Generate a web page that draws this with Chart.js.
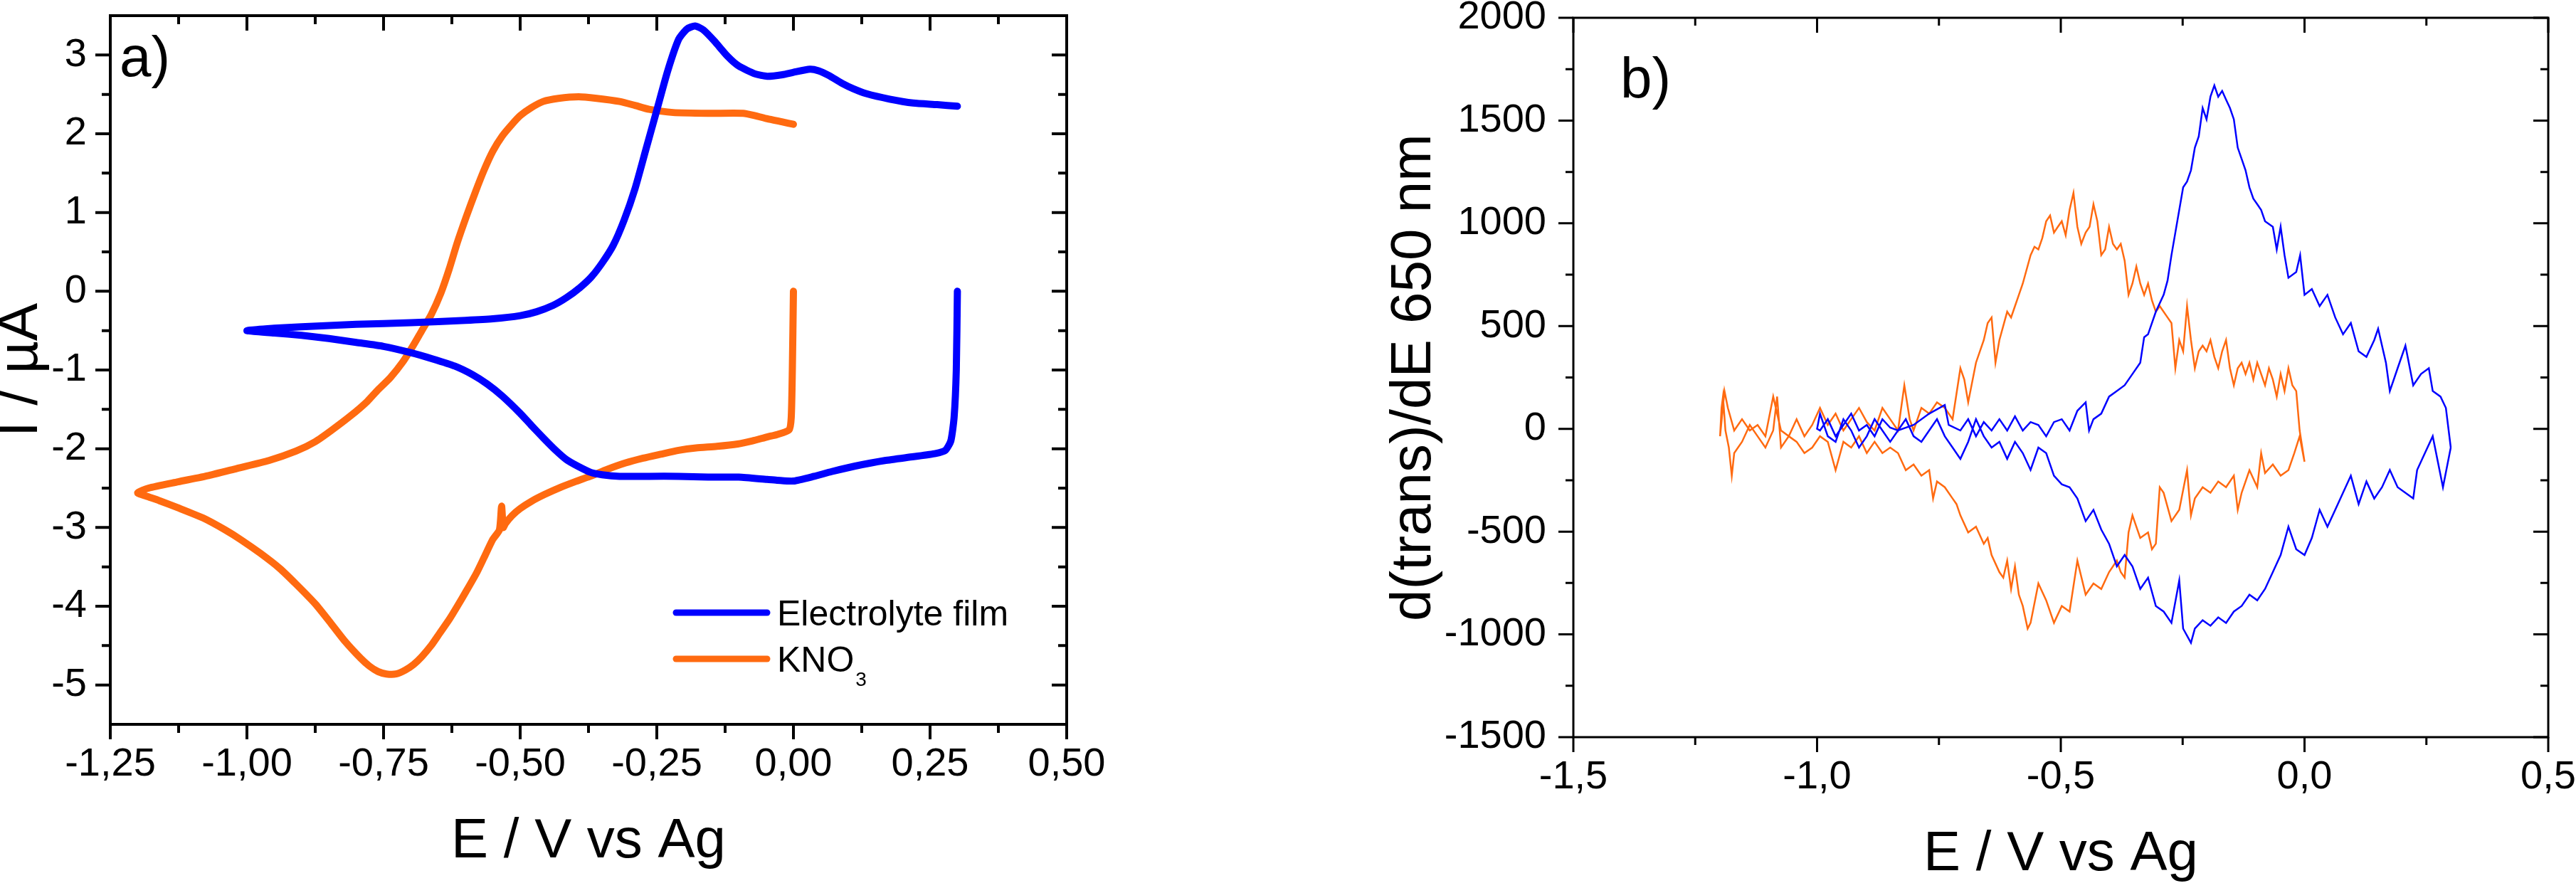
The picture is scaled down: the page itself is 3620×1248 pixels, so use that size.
<!DOCTYPE html>
<html>
<head>
<meta charset="utf-8">
<script src="https://cdn.jsdelivr.net/npm/chart.js@4.4.1/dist/chart.umd.min.js"></script>
<style>
  html, body { margin: 0; padding: 0; background: #fff; overflow: hidden; }
  #chartA { position: absolute; left: 0; top: 0; }
  #chartB { position: absolute; left: 1900px; top: 0; }
</style>
</head>
<body>
<canvas id="chartA" width="1600" height="1248" style="width:1600px;height:1248px"></canvas>
<canvas id="chartB" width="1760" height="1248" style="width:1760px;height:1248px"></canvas>
<script>
const FONT = "'Liberation Sans', Arial, Helvetica, sans-serif";
const BLUE = '#0000ff';
const ORANGE = '#ff6a10';

// ---- panel a) cyclic voltammograms ----
const aXTicks = [-1.25, -1.0, -0.75, -0.5, -0.25, 0, 0.25, 0.5];
const aXMinor = [-1.125, -0.875, -0.625, -0.375, -0.125, 0.125, 0.375];
const aYTicks = [-5, -4, -3, -2, -1, 0, 1, 2, 3];
const aYMinor = [-4.5, -3.5, -2.5, -1.5, -0.5, 0.5, 1.5, 2.5];

const aBlueE = [0.300, 0.298, 0.294, 0.288, 0.278, 0.26, 0.22, 0.167, 0.113, 0.07, 0.038, 0.0, -0.03, -0.048,
  -0.10, -0.156, -0.21, -0.264, -0.318, -0.35, -0.371, -0.395, -0.415, -0.435, -0.458, -0.48, -0.50,
  -0.533, -0.56, -0.587, -0.62, -0.66, -0.70, -0.75, -0.80, -0.85, -0.90, -0.95, -1.00,
  -0.95, -0.90, -0.80, -0.70, -0.60, -0.55, -0.50, -0.47, -0.44, -0.415, -0.39, -0.37, -0.35, -0.33,
  -0.31, -0.29, -0.27, -0.25, -0.23, -0.21, -0.195, -0.18, -0.165, -0.145, -0.12, -0.10, -0.07, -0.048,
  -0.02, 0.0, 0.03, 0.046, 0.065, 0.089, 0.11, 0.133, 0.176, 0.219, 0.263, 0.30];
const aBlueI = [0.00, -1.00, -1.60, -1.90, -2.02, -2.06, -2.10, -2.15, -2.22, -2.29, -2.35, -2.41, -2.40, -2.39,
  -2.36, -2.36, -2.35, -2.35, -2.35, -2.33, -2.30, -2.22, -2.14, -2.02, -1.86, -1.70, -1.55,
  -1.33, -1.18, -1.06, -0.95, -0.86, -0.78, -0.70, -0.65, -0.60, -0.56, -0.53, -0.50,
  -0.47, -0.45, -0.42, -0.40, -0.37, -0.35, -0.31, -0.26, -0.18, -0.08, 0.05, 0.18, 0.36, 0.58,
  0.90, 1.30, 1.80, 2.30, 2.80, 3.20, 3.33, 3.37, 3.32, 3.18, 2.98, 2.86, 2.76, 2.73,
  2.75, 2.78, 2.82, 2.80, 2.74, 2.64, 2.57, 2.51, 2.44, 2.39, 2.37, 2.35];

const aOrangeE = [0.0, -0.002, -0.004, -0.008, -0.03, -0.048, -0.075, -0.102, -0.14, -0.178, -0.21, -0.243,
  -0.275, -0.307, -0.34, -0.372, -0.40, -0.426, -0.455, -0.48, -0.50, -0.515, -0.527, -0.531, -0.534,
  -0.538, -0.55, -0.566, -0.58, -0.598, -0.615, -0.63, -0.648, -0.663, -0.68, -0.695, -0.71, -0.727,
  -0.745, -0.76, -0.776, -0.792, -0.82, -0.846, -0.875, -0.91, -0.94, -0.975, -1.01, -1.04, -1.08,
  -1.126, -1.16, -1.185, -1.20,
  -1.18, -1.126, -1.07, -1.018, -0.96, -0.91, -0.875, -0.846, -0.81, -0.78, -0.76, -0.738, -0.715,
  -0.695, -0.68, -0.663, -0.645, -0.63, -0.615, -0.598, -0.582, -0.566, -0.55, -0.533, -0.515, -0.50,
  -0.48, -0.458, -0.43, -0.393, -0.36, -0.318, -0.29, -0.264, -0.22, -0.156, -0.092, -0.07, -0.048,
  -0.02, 0.0];
const aOrangeI = [0.0, -1.0, -1.6, -1.76, -1.82, -1.85, -1.90, -1.94, -1.97, -1.99, -2.02, -2.07,
  -2.12, -2.18, -2.26, -2.35, -2.42, -2.49, -2.58, -2.67, -2.76, -2.85, -2.95, -3.0, -2.73,
  -3.03, -3.15, -3.38, -3.58, -3.80, -4.00, -4.17, -4.35, -4.50, -4.64, -4.74, -4.81, -4.86,
  -4.86, -4.83, -4.76, -4.66, -4.45, -4.22, -3.97, -3.72, -3.52, -3.33, -3.16, -3.03, -2.88,
  -2.75, -2.66, -2.60, -2.56,
  -2.50, -2.42, -2.34, -2.25, -2.15, -2.03, -1.91, -1.77, -1.58, -1.40, -1.25, -1.10, -0.90,
  -0.68, -0.50, -0.30, -0.02, 0.28, 0.62, 0.96, 1.26, 1.54, 1.78, 1.97, 2.12, 2.23,
  2.33, 2.41, 2.45, 2.47, 2.45, 2.41, 2.36, 2.31, 2.27, 2.26, 2.26, 2.23, 2.19,
  2.15, 2.12];

// ---- panel b) derivative of transmittance ----
const bXTicks = [-1.5, -1.0, -0.5, 0, 0.5];
const bXMinor = [-1.25, -0.75, -0.25, 0.25];
const bYTicks = [-1500, -1000, -500, 0, 500, 1000, 1500, 2000];
const bYMinor = [-1250, -750, -250, 250, 750, 1250, 1750];

const bBlueE = [0.300, 0.284, 0.263, 0.247, 0.231, 0.223, 0.191, 0.175, 0.159, 0.143, 0.127, 0.111, 0.095,
  0.079, 0.063, 0.047, 0.031, 0.015, 0.000, -0.017, -0.033, -0.049, -0.065, -0.081, -0.097, -0.113,
  -0.129, -0.145, -0.161, -0.177, -0.193, -0.209, -0.225, -0.233, -0.249, -0.257, -0.273, -0.289,
  -0.305, -0.321, -0.337, -0.353, -0.369, -0.385, -0.401, -0.417, -0.433, -0.449, -0.466, -0.482,
  -0.498, -0.514, -0.530, -0.546, -0.562, -0.578, -0.594, -0.610, -0.626, -0.642, -0.658, -0.674,
  -0.690, -0.706, -0.722, -0.738, -0.754, -0.770, -0.786, -0.802, -0.818, -0.834, -0.850, -0.866,
  -0.882, -0.898, -0.914, -0.930, -0.946, -0.962, -0.978, -0.994, -1.000,
  -0.994, -0.978, -0.962, -0.946, -0.930, -0.914, -0.898, -0.882, -0.866, -0.850, -0.834, -0.802,
  -0.770, -0.738, -0.730, -0.706, -0.690, -0.674, -0.658, -0.642, -0.626, -0.610, -0.594, -0.578,
  -0.562, -0.546, -0.530, -0.514, -0.498, -0.482, -0.466, -0.449, -0.442, -0.433, -0.417, -0.401,
  -0.385, -0.369, -0.353, -0.337, -0.329, -0.321, -0.305, -0.289, -0.281, -0.273, -0.265, -0.249,
  -0.241, -0.233, -0.225, -0.217, -0.209, -0.201, -0.193, -0.185, -0.177, -0.169, -0.161, -0.153,
  -0.145, -0.137, -0.129, -0.121, -0.113, -0.105, -0.097, -0.089, -0.081, -0.065, -0.057, -0.049,
  -0.041, -0.033, -0.017, -0.009, 0.000, 0.015, 0.031, 0.047, 0.063, 0.079, 0.095, 0.111, 0.127,
  0.143, 0.151, 0.167, 0.175, 0.191, 0.207, 0.223, 0.239, 0.255, 0.263, 0.279, 0.290, 0.300];
const bBlueD = [-91, -284, -36, -118, -200, -339, -284, -200, -284, -339, -256, -366, -228,
  -311, -394, -476, -394, -531, -614, -586, -476, -614, -697, -779, -834, -807,
  -862, -889, -944, -917, -958, -931, -972, -1041, -972, -738, -944, -889,
  -862, -724, -779, -669, -614, -669, -559, -490, -394, -449, -339, -284,
  -270, -228, -118, -91, -200, -118, -63, -146, -63, -91, -36, 47,
  -63, -146, -91, -36, 47, -8, -63, -36, 47, -8, -63, -8,
  47, -36, -91, -8, 47, -63, -36, 74, 0,
  -8, 47, -36, 19, 74, -8, 19, -36, 47, 6, -8, 19,
  74, 116, 19, -8, 47, -36, 33, -8, 47, -8, 61, -8,
  33, 19, -36, 33, 47, -8, 88, 129, -8, 47, 74, 157,
  184, 212, 267, 322, 446, 460, 570, 652, 721, 845, 955, 1175,
  1203, 1258, 1368, 1423, 1561, 1506, 1616, 1671, 1616, 1644, 1602, 1561,
  1506, 1368, 1313, 1258, 1175, 1120, 1093, 1065, 1010, 983, 873, 983,
  845, 735, 763, 845, 652, 680, 597, 652, 542, 460, 515, 377, 350,
  432, 487, 322, 184, 295, 405, 212, 267, 295, 184, 157, 102, -91];

const bOrangeE = [0.000, -0.010, -0.021, -0.033, -0.049, -0.065, -0.081, -0.089, -0.097, -0.113, -0.129,
  -0.137, -0.145, -0.161, -0.177, -0.193, -0.209, -0.225, -0.233, -0.241, -0.257, -0.273, -0.289,
  -0.297, -0.305, -0.313, -0.321, -0.337, -0.353, -0.361, -0.369, -0.377, -0.385, -0.401, -0.417,
  -0.433, -0.449, -0.466, -0.482, -0.498, -0.514, -0.530, -0.546, -0.562, -0.568, -0.578, -0.586,
  -0.594, -0.602, -0.610, -0.618, -0.626, -0.642, -0.650, -0.658, -0.674, -0.690, -0.706, -0.714,
  -0.722, -0.738, -0.754, -0.762, -0.770, -0.786, -0.802, -0.818, -0.834, -0.850, -0.866, -0.882,
  -0.898, -0.914, -0.930, -0.946, -0.962, -0.978, -0.994, -1.010, -1.026, -1.042, -1.058, -1.074,
  -1.082, -1.090, -1.106, -1.122, -1.138, -1.154, -1.170, -1.175, -1.181, -1.188, -1.193, -1.196,
  -1.199,
  -1.190, -1.183, -1.170, -1.154, -1.138, -1.122, -1.106, -1.090, -1.074, -1.058, -1.042, -1.026,
  -1.010, -0.994, -0.978, -0.962, -0.946, -0.930, -0.914, -0.898, -0.882, -0.866, -0.850, -0.834,
  -0.821, -0.810, -0.802, -0.786, -0.770, -0.754, -0.738, -0.722, -0.706, -0.698, -0.690, -0.674,
  -0.658, -0.650, -0.642, -0.634, -0.626, -0.610, -0.602, -0.594, -0.586, -0.578, -0.562, -0.554,
  -0.546, -0.538, -0.530, -0.522, -0.514, -0.506, -0.498, -0.490, -0.482, -0.474, -0.466, -0.458,
  -0.449, -0.441, -0.433, -0.425, -0.417, -0.409, -0.401, -0.393, -0.385, -0.377, -0.369, -0.361,
  -0.353, -0.345, -0.337, -0.329, -0.321, -0.313, -0.305, -0.297, -0.281, -0.273, -0.265, -0.257,
  -0.249, -0.241, -0.233, -0.225, -0.217, -0.209, -0.201, -0.193, -0.185, -0.177, -0.169, -0.161,
  -0.153, -0.145, -0.137, -0.129, -0.121, -0.113, -0.105, -0.097, -0.089, -0.081, -0.073, -0.065,
  -0.057, -0.049, -0.041, -0.033, -0.025, -0.017, -0.010, 0.000];
const bOrangeD = [-160, -36, -118, -201, -228, -173, -215, -118, -284, -201, -311,
  -394, -228, -284, -256, -311, -284, -339, -421, -201, -394, -449, -311,
  -284, -559, -586, -504, -531, -421, -504, -724, -697, -641, -697, -779,
  -752, -807, -641, -889, -862, -944, -834, -752, -944, -972, -862, -807,
  -669, -779, -641, -724, -697, -614, -531, -559, -476, -504, -421, -366,
  -339, -284, -256, -339, -201, -228, -173, -201, -118, -91, -118, -63,
  -118, -36, -91, -63, -201, -63, -36, -91, -118, -63, -36, -91,
  157, -8, -91, -36, 19, -63, -118, -228, -91, -8, 157, 102,
  -36,
  184, 102, -8, 47, -8, 19, -36, 157, -8, -36, 47, -36,
  19, 102, 19, 74, -8, 47, 102, 33, -8, 102, 47, -8,
  212, 47, -8, 102, 74, 129, 102, 47, 295, 240, 129, 322,
  432, 515, 542, 322, 432, 570, 542, 597, 652, 707, 845, 886,
  873, 928, 1010, 1038, 955, 983, 1010, 942, 1065, 1148, 983, 900,
  955, 983, 1093, 1010, 845, 873, 983, 900, 873, 900, 818, 652,
  707, 790, 707, 652, 707, 625, 570, 597, 542, 515, 295, 432,
  377, 597, 432, 295, 377, 405, 377, 432, 350, 295, 377, 432,
  295, 212, 295, 322, 267, 322, 240, 322, 267, 212, 295, 240,
  157, 267, 184, 295, 212, 184, -8, -160];

const toXY = (xs, ys) => xs.map((v, i) => ({ x: v, y: ys[i] }));
const comma = d => v => v.toFixed(d).replace('.', ',');

// box, inward/outward tick marks
const frame = {
  id: 'frame',
  afterDatasetsDraw(chart, args, o) {
    const { ctx, chartArea: ca, scales: { x, y } } = chart;
    ctx.save();
    ctx.strokeStyle = '#000';
    ctx.lineWidth = o.width;
    ctx.beginPath();
    const vt = (v, len) => {
      const px = x.getPixelForValue(v);
      ctx.moveTo(px, ca.bottom); ctx.lineTo(px, ca.bottom + len);
      ctx.moveTo(px, ca.top); ctx.lineTo(px, ca.top + len);
    };
    const ht = (v, len) => {
      const py = y.getPixelForValue(v);
      ctx.moveTo(ca.left, py); ctx.lineTo(ca.left - len, py);
      ctx.moveTo(ca.right, py); ctx.lineTo(ca.right - len, py);
    };
    o.xMajor.forEach(v => vt(v, o.major));
    o.xMinor.forEach(v => vt(v, o.minor));
    o.yMajor.forEach(v => ht(v, o.major));
    o.yMinor.forEach(v => ht(v, o.minor));
    ctx.stroke();
    ctx.strokeRect(ca.left, ca.top, ca.right - ca.left, ca.bottom - ca.top);
    ctx.restore();
  }
};

// panel letter and the hand drawn legend of panel a
const notes = {
  id: 'notes',
  afterDraw(chart, args, o) {
    const ctx = chart.ctx;
    ctx.save();
    ctx.fillStyle = '#000';
    ctx.textBaseline = 'alphabetic';
    ctx.font = '80px ' + FONT;
    ctx.fillText(o.letter, o.lx, o.ly);
    (o.legend || []).forEach(it => {
      ctx.strokeStyle = it.color;
      ctx.lineWidth = 9;
      ctx.lineCap = 'round';
      ctx.beginPath();
      ctx.moveTo(it.x, it.y);
      ctx.lineTo(it.x + 128, it.y);
      ctx.stroke();
      ctx.font = '50px ' + FONT;
      const tx = it.x + 142;
      ctx.fillText(it.text, tx, it.y + 18);
      if (it.sub) {
        const w = ctx.measureText(it.text).width;
        ctx.font = '28px ' + FONT;
        ctx.fillText(it.sub, tx + w + 2, it.y + 38);
      }
    });
    ctx.restore();
  }
};

function axes(o) {
  return {
    x: {
      type: 'linear', min: o.xMin, max: o.xMax,
      afterBuildTicks: s => { s.ticks = o.xTicks.map(v => ({ value: v })); },
      afterFit: s => { s.height = o.xH; s.paddingLeft = 0; s.paddingRight = 0; },
      grid: { display: false, drawTicks: false },
      border: { display: false },
      ticks: { color: '#000', padding: o.xPad, maxRotation: 0, autoSkip: false,
        font: { family: FONT, size: 56 }, callback: o.xFmt },
      title: { display: true, text: 'E / V vs Ag', color: '#000',
        font: { family: FONT, size: 78 }, padding: { top: 0, bottom: o.xTitlePad } }
    },
    y: {
      type: 'linear', min: o.yMin, max: o.yMax,
      afterBuildTicks: s => { s.ticks = o.yTicks.map(v => ({ value: v })); },
      afterFit: s => { s.width = o.yW; s.paddingTop = 0; s.paddingBottom = 0; },
      grid: { display: false, drawTicks: false },
      border: { display: false },
      ticks: { color: '#000', padding: o.yPad, autoSkip: false,
        font: { family: FONT, size: 56 }, callback: v => String(v) },
      title: { display: true, text: o.yTitle, color: '#000',
        font: { family: FONT, size: 80, lineHeight: o.yTitleLH }, padding: { top: o.yTitlePad, bottom: 0 } }
    }
  };
}

const common = {
  responsive: false, animation: false, devicePixelRatio: 1,
  events: [],
  plugins: { legend: { display: false }, tooltip: { enabled: false } }
};

new Chart(document.getElementById('chartA'), {
  type: 'scatter',
  data: {
    datasets: [
      { label: 'Electrolyte film', data: toXY(aBlueE, aBlueI), borderColor: BLUE },
      { label: 'KNO3', data: toXY(aOrangeE, aOrangeI), borderColor: ORANGE }
    ].map(d => Object.assign(d, { showLine: true, pointRadius: 0, borderWidth: 10, tension: 0.2,
      borderCapStyle: 'round', borderJoinStyle: 'round' }))
  },
  options: Object.assign({}, common, {
    layout: { padding: { top: 22, right: 101, left: 0, bottom: 0 } },
    scales: axes({ xMin: -1.25, xMax: 0.5, xTicks: aXTicks, xFmt: comma(2), xH: 230, xPad: 23,
      xTitlePad: 18, yMin: -5.5, yMax: 3.5, yTicks: aYTicks, yW: 155, yPad: 33,
      yTitle: 'I / µA', yTitleLH: 0.75, yTitlePad: 0 }),
    plugins: Object.assign({}, common.plugins, {
      frame: { width: 4, major: 21, minor: 12, xMajor: aXTicks, xMinor: aXMinor, yMajor: aYTicks, yMinor: aYMinor },
      notes: { letter: 'a)', lx: 168, ly: 107, legend: [
        { color: BLUE, x: 950, y: 861, text: 'Electrolyte film' },
        { color: ORANGE, x: 950, y: 926, text: 'KNO', sub: '3' }
      ] }
    })
  }),
  plugins: [frame, notes]
});

new Chart(document.getElementById('chartB'), {
  type: 'scatter',
  data: {
    datasets: [
      { label: 'Electrolyte film', data: toXY(bBlueE, bBlueD), borderColor: BLUE },
      { label: 'KNO3', data: toXY(bOrangeE, bOrangeD), borderColor: ORANGE }
    ].map(d => Object.assign(d, { showLine: true, pointRadius: 0, borderWidth: 2.5, tension: 0 }))
  },
  options: Object.assign({}, common, {
    layout: { padding: { top: 25, right: 79, left: 0, bottom: 0 } },
    scales: axes({ xMin: -1.5, xMax: 0.5, xTicks: bXTicks, xFmt: comma(1), xH: 212, xPad: 23,
      xTitlePad: 0, yMin: -1500, yMax: 2000, yTicks: bYTicks, yW: 311, yPad: 38,
      yTitle: 'd(trans)/dE 650 nm', yTitleLH: 1.2, yTitlePad: 40 }),
    plugins: Object.assign({}, common.plugins, {
      frame: { width: 3, major: 21, minor: 11, xMajor: bXTicks, xMinor: bXMinor, yMajor: bYTicks, yMinor: bYMinor },
      notes: { letter: 'b)', lx: 377, ly: 137 }
    })
  }),
  plugins: [frame, notes]
});
</script>
</body>
</html>
